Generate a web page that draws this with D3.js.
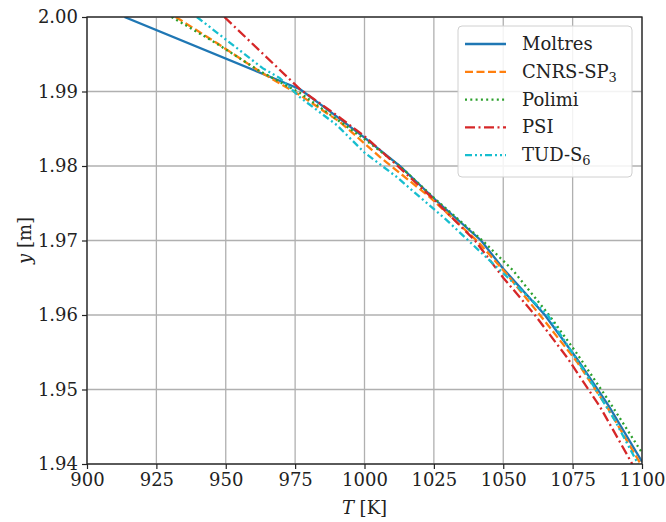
<!DOCTYPE html>
<html><head><meta charset="utf-8">
<script src="https://cdn.jsdelivr.net/npm/d3@7"></script>
<style>body{margin:0;background:#fff;} text{font-family:"DejaVu Serif",serif;}</style>
</head><body><svg id="c" width="666" height="522"></svg>
<script>
const xTicks = [900, 925, 950, 975, 1000, 1025, 1050, 1075, 1100];
const yTicks = [1.94, 1.95, 1.96, 1.97, 1.98, 1.99, 2.00];

const moltresT = [913.5, 976.8, 988, 1000, 1012.8, 1026, 1042, 1050, 1065, 1076.6, 1088, 1100];
const moltresY = [2.000, 1.9903, 1.9872, 1.9838, 1.9800, 1.9753, 1.9700, 1.9662, 1.9600, 1.9541, 1.9478, 1.9403];

const cnrsT = [932, 946.8, 963, 976.8, 991.2, 1005.6, 1023.6, 1041, 1051, 1063.2, 1076.6, 1088, 1099.5];
const cnrsY = [2.000, 1.9965, 1.9925, 1.9895, 1.9859, 1.9812, 1.9758, 1.9698, 1.9656, 1.9600, 1.9537, 1.9473, 1.9400];

const polimiT = [930.5, 946, 962, 976.8, 986.5, 1000, 1013, 1026, 1042.5, 1053.5, 1066.5, 1076.6, 1088, 1100];
const polimiY = [2.000, 1.9966, 1.9928, 1.9898, 1.9872, 1.9836, 1.9799, 1.9754, 1.9700, 1.9660, 1.9600, 1.9548, 1.9485, 1.9415];

const psiT = [949.5, 976.8, 990, 1000, 1011.7, 1025, 1039.8, 1050, 1061.4, 1073, 1085, 1096.5];
const psiY = [2.000, 1.9903, 1.9868, 1.9840, 1.9801, 1.9755, 1.9700, 1.9650, 1.9600, 1.9543, 1.9476, 1.9400];

const tudT = [939.6, 963.4, 969.5, 976.8, 990, 1000, 1011.7, 1029.7, 1050, 1066, 1080, 1090, 1098.6];
const tudY = [2.000, 1.9931, 1.9918, 1.9892, 1.9855, 1.9818, 1.9785, 1.9727, 1.9656, 1.9600, 1.9520, 1.9460, 1.9400];

const series = [
  {name: "Moltres", sub: null, T: moltresT, Y: moltresY, color: "#1f77b4", dash: null},
  {name: "CNRS-SP", sub: "3", T: cnrsT, Y: cnrsY, color: "#ff7f0e", dash: "8,3.5"},
  {name: "Polimi", sub: null, T: polimiT, Y: polimiY, color: "#2ca02c", dash: "2,3.3"},
  {name: "PSI", sub: null, T: psiT, Y: psiY, color: "#d62728", dash: "10,3.5,2,3.5"},
  {name: "TUD-S", sub: "6", T: tudT, Y: tudY, color: "#17becf", dash: "7,3,2,3,2,3"}
];

const L = 87, R = 642, Tp = 17, B = 464;
const svg = d3.select("#c");
const x = d3.scaleLinear().domain([900, 1100]).range([L, R]);
const y = d3.scaleLinear().domain([1.94, 2.00]).range([B, Tp]);

// grid
svg.append("g").selectAll("line").data(xTicks).join("line")
  .attr("x1", d => x(d)).attr("x2", d => x(d)).attr("y1", Tp).attr("y2", B)
  .attr("stroke", "#b0b0b0").attr("stroke-width", 1.3);
svg.append("g").selectAll("line").data(yTicks).join("line")
  .attr("y1", d => y(d)).attr("y2", d => y(d)).attr("x1", L).attr("x2", R)
  .attr("stroke", "#b0b0b0").attr("stroke-width", 1.3);

// lines
svg.append("clipPath").attr("id", "clp").append("rect")
  .attr("x", L).attr("y", Tp).attr("width", R - L).attr("height", B - Tp);
const line = d3.line().x(d => x(d[0])).y(d => y(d[1]));
const gl = svg.append("g").attr("clip-path", "url(#clp)");
series.forEach(s => {
  const pts = s.T.map((t, i) => [t, s.Y[i]]);
  gl.append("path").attr("d", line(pts)).attr("fill", "none")
    .attr("stroke", s.color).attr("stroke-width", 2.3)
    .attr("stroke-dasharray", s.dash);
});

// axes
const xa = svg.append("g").attr("transform", `translate(0,${B})`)
  .call(d3.axisBottom(x).tickValues(xTicks).tickSize(5).tickPadding(4).tickFormat(d3.format("d")));
const ya = svg.append("g").attr("transform", `translate(${L},0)`)
  .call(d3.axisLeft(y).tickValues(yTicks).tickSize(5).tickPadding(4).tickFormat(d3.format(".2f")));
[xa, ya].forEach(a => {
  a.select(".domain").remove();
  a.selectAll("line").attr("stroke", "#222").attr("stroke-width", 1.2);
  a.selectAll("text").attr("font-family", "DejaVu Serif").attr("font-size", 18).attr("fill", "#222");
});
svg.append("rect").attr("x", L).attr("y", Tp).attr("width", R - L).attr("height", B - Tp)
  .attr("fill", "none").attr("stroke", "#222").attr("stroke-width", 1.3);

// axis labels
const xl = svg.append("text").attr("x", (L + R) / 2).attr("y", 514).attr("text-anchor", "middle")
  .attr("font-size", 18).attr("fill", "#222");
xl.append("tspan").attr("font-style", "italic").text("T");
xl.append("tspan").text(" [K]");
const yl = svg.append("text").attr("transform", `translate(31,${(Tp + B) / 2}) rotate(-90)`)
  .attr("text-anchor", "middle").attr("font-size", 18).attr("fill", "#222");
yl.append("tspan").attr("font-style", "italic").text("y");
yl.append("tspan").text(" [m]");

// legend
const lg = svg.append("g");
lg.append("rect").attr("x", 458).attr("y", 26).attr("width", 174).attr("height", 151).attr("rx", 4)
  .attr("fill", "#fff").attr("fill-opacity", 0.85).attr("stroke", "#d0d0d0").attr("stroke-width", 1);
series.forEach((s, i) => {
  const yy = 44 + i * 27.8;
  lg.append("line").attr("x1", 465).attr("x2", 506).attr("y1", yy).attr("y2", yy)
    .attr("stroke", s.color).attr("stroke-width", 2.3).attr("stroke-dasharray", s.dash);
  const t = lg.append("text").attr("x", 522).attr("y", yy + 6).attr("font-size", 18).attr("fill", "#222");
  t.append("tspan").text(s.name);
  if (s.sub) t.append("tspan").attr("font-size", 13).attr("dy", 4).text(s.sub);
});
</script></body></html>
